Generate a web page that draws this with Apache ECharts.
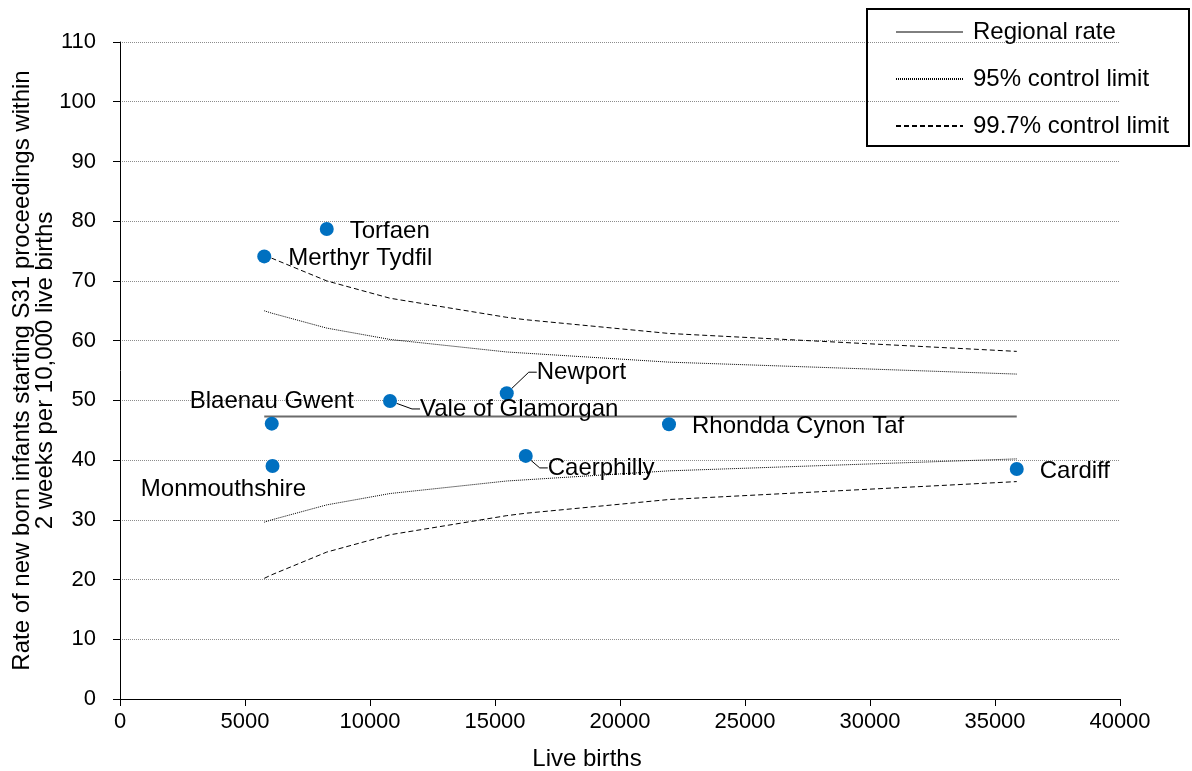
<!DOCTYPE html>
<html>
<head>
<meta charset="utf-8">
<title>Live births funnel plot</title>
<script src="https://cdn.jsdelivr.net/npm/echarts@6/dist/echarts.min.js"></script>
<style>
  html, body { margin: 0; padding: 0; background: #fff; }
  #chart { width: 1192px; height: 771px; }
</style>
</head>
<body>
<div id="chart"></div>
<script>
// Local authorities, ordered by number of live births
const areas = ['Merthyr Tydfil', 'Blaenau Gwent', 'Monmouthshire', 'Torfaen', 'Vale of Glamorgan',
               'Newport', 'Caerphilly', 'Rhondda Cynon Taf', 'Cardiff'];
const births = [5770, 6070, 6100, 8270, 10800, 15470, 16230, 21960, 35870];
const rates = [74.1, 46.1, 39.0, 78.7, 49.9, 51.2, 40.7, 46.0, 38.5];

// Regional rate and control limits at each authority's births
const regionalRate = 47.3;
const upper95 = [65.0, 64.6, 64.5, 62.1, 60.2, 58.1, 57.9, 56.4, 54.4];
const lower95 = [29.6, 30.0, 30.1, 32.5, 34.4, 36.5, 36.7, 38.2, 40.2];
const upper997 = [74.4, 73.8, 73.7, 70.0, 67.1, 63.9, 63.5, 61.2, 58.2];
const lower997 = [20.2, 20.8, 20.9, 24.6, 27.5, 30.7, 31.1, 33.4, 36.4];

const yTicks = { min: 0, max: 110, step: 10 };
const xTicks = { min: 0, max: 40000, step: 5000 };

// Label placement for each point (position, shift, leader line)
const labelPlacement = [
  { pos: 'right', dx: 12, dy: 2, line: false },
  { pos: 'top', dx: 0, dy: 2, line: false },
  { pos: 'bottom', dx: -49, dy: -1, line: false },
  { pos: 'right', dx: 11, dy: 2, line: false },
  { pos: 'right', dx: 18, dy: 8, line: true },
  { pos: 'right', dx: 18, dy: -21, line: true },
  { pos: 'right', dx: 10, dy: 12, line: true },
  { pos: 'right', dx: 11, dy: 2, line: false },
  { pos: 'right', dx: 11, dy: 2, line: false }
];

const FONT = "'Liberation Sans', Arial, sans-serif";

const pairs = (ys) => births.map((b, i) => [b, ys[i]]);

const points = areas.map((name, i) => ({
  name: name,
  value: [births[i], rates[i]],
  label: { position: labelPlacement[i].pos },
  labelLine: { show: labelPlacement[i].line }
}));

const chart = echarts.init(document.getElementById('chart'), null, { renderer: 'canvas' });

const thinLine = (name, data, dash, color, width) => ({
  name: name,
  type: 'line',
  data: data,
  symbol: 'none',
  silent: true,
  z: 2,
  lineStyle: { color: color, width: width, type: dash },
  itemStyle: { color: color }
});

chart.setOption({
  animation: false,
  backgroundColor: '#fff',
  textStyle: { fontFamily: FONT },
  grid: { left: 120, right: 72, top: 42, bottom: 72, containLabel: false, outerBoundsMode: 'none' },
  graphic: [{
    type: 'rect',
    shape: { x: 867, y: 9, width: 322, height: 137 },
    style: { fill: 'none', stroke: '#000', lineWidth: 2 },
    z: 10
  }],
  legend: {
    orient: 'vertical',
    left: 890,
    top: 15,
    itemWidth: 67,
    itemHeight: 24,
    itemGap: 23,
    itemStyle: { opacity: 0 },
    data: [
      { name: 'Regional rate', lineStyle: { color: '#000', width: 1 } },
      { name: '95% control limit' },
      { name: '99.7% control limit' }
    ],
    textStyle: { fontSize: 24, color: '#000', fontFamily: FONT, padding: [0, 0, 0, 5] },
    z: 11
  },
  xAxis: {
    type: 'value',
    min: xTicks.min,
    max: xTicks.max,
    interval: xTicks.step,
    name: 'Live births',
    nameLocation: 'middle',
    nameGap: 48,
    nameMoveOverlap: false,
    nameTextStyle: { fontSize: 24, color: '#000', fontFamily: FONT, padding: [0, 66, 0, 0] },
    axisLine: { lineStyle: { color: '#000', width: 1 } },
    axisTick: { show: true, length: 7, lineStyle: { color: '#000' } },
    axisLabel: { fontSize: 22, color: '#000', margin: 12, fontFamily: FONT, formatter: (v) => String(v) },
    splitLine: { show: false }
  },
  yAxis: {
    type: 'value',
    min: yTicks.min,
    max: yTicks.max,
    interval: yTicks.step,
    name: 'Rate of new born infants starting S31 proceedings within\n2 weeks per 10,000 live births',
    nameLocation: 'middle',
    nameGap: 63,
    nameMoveOverlap: false,
    nameTextStyle: { fontSize: 24, color: '#000', fontFamily: FONT, lineHeight: 23, align: 'center' },
    axisLine: { show: true, lineStyle: { color: '#000', width: 1 } },
    axisTick: { show: true, length: 7, lineStyle: { color: '#000' } },
    axisLabel: { fontSize: 22, color: '#000', margin: 24, fontFamily: FONT },
    splitLine: { show: true, lineStyle: { color: '#8c8c8c', width: 1, type: [1, 1] } }
  },
  series: [
    thinLine('Regional rate', [[births[0], regionalRate], [births[births.length - 1], regionalRate]], 'solid', '#6b6b6b', 2),
    thinLine('95% control limit', pairs(upper95), [1, 1], '#000', 1),
    thinLine('95% control limit', pairs(lower95), [1, 1], '#000', 1),
    thinLine('99.7% control limit', pairs(upper997), [5, 3], '#000', 1),
    thinLine('99.7% control limit', pairs(lower997), [5, 3], '#000', 1),
    {
      name: 'Local authorities',
      type: 'scatter',
      data: points,
      symbol: 'circle',
      symbolSize: 14,
      z: 5,
      itemStyle: { color: '#0070C0', opacity: 1 },
      label: {
        show: true,
        formatter: '{b}',
        fontSize: 24,
        color: '#000',
        fontFamily: FONT,
        distance: 5
      },
      labelLine: { lineStyle: { color: '#000', width: 1 }, length2: 8 },
      labelLayout: (params) => ({
        dx: labelPlacement[params.dataIndex].dx,
        dy: labelPlacement[params.dataIndex].dy
      })
    }
  ]
});
</script>
</body>
</html>
